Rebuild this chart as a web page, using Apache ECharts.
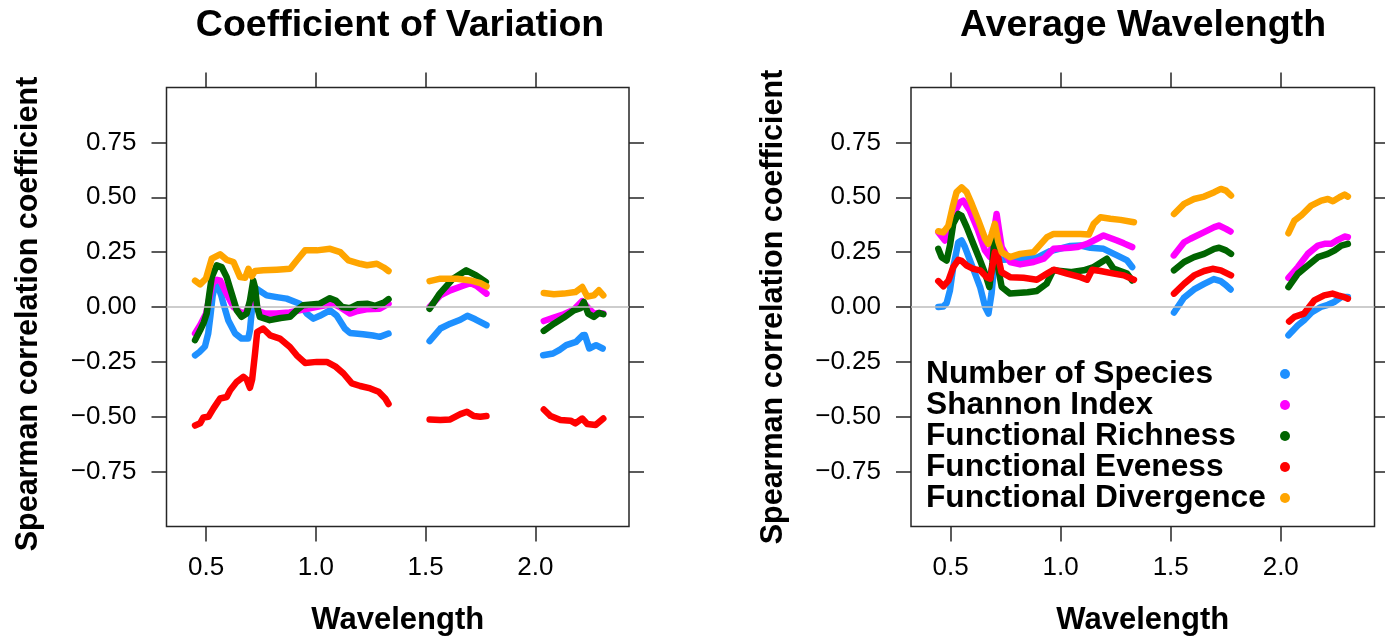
<!DOCTYPE html>
<html>
<head>
<meta charset="utf-8">
<title>Spearman correlation by wavelength</title>
<script src="https://cdn.jsdelivr.net/npm/echarts@6.0.0/dist/echarts.min.js"></script>
<style>
  html, body { margin: 0; padding: 0; background: #fff; }
  #chart { width: 1385px; height: 637px; }
</style>
</head>
<body>
<div id="chart"></div>
<script>
var seriesNames = ['Number of Species', 'Shannon Index', 'Functional Richness', 'Functional Eveness', 'Functional Divergence'];
var seriesColors = ['#1E90FF', '#FF00FF', '#006400', '#FF0000', '#FFA500'];
var panelTitles = ['Coefficient of Variation', 'Average Wavelength'];
var xTicks = [0.5, 1.0, 1.5, 2.0];
var yTicks = [-0.75, -0.5, -0.25, 0, 0.25, 0.5, 0.75];

// [wavelength, rho], one array per spectral block (water bands are gaps)
// Coefficient of Variation panel
var cvSpecies = [
  [[0.45,-0.22],[0.47,-0.205],[0.495,-0.18],[0.51,-0.12],[0.52,-0.04],[0.53,0.05],[0.541,0.1],[0.556,0.09],[0.57,0.05],[0.579,0.015],[0.601,-0.06],[0.632,-0.12],[0.662,-0.144],[0.692,-0.144],[0.7,-0.106],[0.71,0],[0.715,0.061],[0.73,0.083],[0.776,0.053],[0.822,0.045],[0.867,0.038],[0.927,0.015],[0.959,-0.03],[0.989,-0.053],[1.018,-0.04],[1.064,-0.015],[1.094,-0.038],[1.132,-0.098],[1.155,-0.118],[1.215,-0.124],[1.26,-0.13],[1.291,-0.136],[1.331,-0.121]],
  [[1.518,-0.155],[1.567,-0.098],[1.612,-0.076],[1.658,-0.058],[1.69,-0.04],[1.726,-0.056],[1.777,-0.083]],
  [[2.035,-0.22],[2.08,-0.212],[2.11,-0.195],[2.14,-0.174],[2.185,-0.159],[2.215,-0.129],[2.225,-0.128],[2.245,-0.189],[2.276,-0.174],[2.306,-0.189]]
];
var cvShannon = [
  [[0.45,-0.121],[0.475,-0.08],[0.5,-0.03],[0.515,0.04],[0.53,0.11],[0.55,0.124],[0.565,0.12],[0.594,0.06],[0.625,0],[0.655,-0.023],[0.678,-0.03],[0.7,0.015],[0.71,0.06],[0.72,0.04],[0.74,-0.02],[0.77,-0.03],[0.82,-0.03],[0.88,-0.025],[0.95,-0.01],[1.018,0.003],[1.079,0.015],[1.11,0],[1.155,-0.03],[1.19,-0.018],[1.23,-0.01],[1.291,-0.008],[1.331,0.015]],
  [[1.518,0],[1.567,0.053],[1.612,0.076],[1.673,0.098],[1.704,0.109],[1.734,0.095],[1.777,0.061]],
  [[2.038,-0.064],[2.084,-0.048],[2.129,-0.033],[2.175,-0.012],[2.213,0.027],[2.236,0],[2.266,-0.03],[2.289,-0.027],[2.309,-0.03]]
];
var cvRichness = [
  [[0.45,-0.151],[0.473,-0.106],[0.49,-0.07],[0.503,-0.03],[0.515,0.06],[0.526,0.136],[0.549,0.19],[0.571,0.182],[0.594,0.136],[0.617,0.061],[0.64,-0.015],[0.662,-0.045],[0.685,-0.03],[0.7,0.03],[0.715,0.121],[0.723,0.09],[0.733,0],[0.745,-0.045],[0.79,-0.06],[0.84,-0.05],[0.882,-0.045],[0.913,-0.015],[0.942,0.008],[1.018,0.015],[1.064,0.04],[1.09,0.03],[1.12,0],[1.155,-0.005],[1.19,0.012],[1.233,0.015],[1.27,0.005],[1.31,0.02],[1.331,0.036]],
  [[1.518,-0.008],[1.564,0.061],[1.625,0.129],[1.685,0.167],[1.73,0.144],[1.774,0.114]],
  [[2.038,-0.109],[2.084,-0.076],[2.129,-0.048],[2.175,-0.015],[2.205,-0.005],[2.22,0.023],[2.24,-0.03],[2.266,-0.045],[2.289,-0.027],[2.309,-0.033]]
];
var cvEveness = [
  [[0.45,-0.54],[0.473,-0.53],[0.488,-0.503],[0.511,-0.5],[0.534,-0.462],[0.564,-0.417],[0.594,-0.41],[0.61,-0.379],[0.64,-0.341],[0.67,-0.318],[0.685,-0.33],[0.7,-0.368],[0.71,-0.33],[0.723,-0.212],[0.733,-0.114],[0.76,-0.098],[0.792,-0.129],[0.836,-0.144],[0.882,-0.182],[0.913,-0.22],[0.951,-0.255],[1.005,-0.25],[1.05,-0.25],[1.088,-0.27],[1.126,-0.303],[1.164,-0.348],[1.202,-0.36],[1.248,-0.371],[1.286,-0.386],[1.316,-0.417],[1.331,-0.442]],
  [[1.518,-0.512],[1.567,-0.515],[1.612,-0.512],[1.658,-0.488],[1.688,-0.477],[1.719,-0.497],[1.749,-0.5],[1.777,-0.497]],
  [[2.038,-0.467],[2.069,-0.497],[2.114,-0.515],[2.16,-0.518],[2.182,-0.53],[2.213,-0.508],[2.236,-0.533],[2.274,-0.538],[2.309,-0.508]]
];
var cvDivergence = [
  [[0.45,0.12],[0.473,0.103],[0.5,0.13],[0.526,0.22],[0.564,0.24],[0.594,0.215],[0.625,0.205],[0.655,0.136],[0.678,0.133],[0.693,0.174],[0.708,0.14],[0.723,0.164],[0.761,0.167],[0.822,0.17],[0.883,0.174],[0.913,0.212],[0.951,0.258],[1.005,0.258],[1.065,0.265],[1.111,0.25],[1.149,0.212],[1.202,0.197],[1.233,0.19],[1.278,0.197],[1.309,0.18],[1.331,0.164]],
  [[1.518,0.118],[1.567,0.129],[1.643,0.129],[1.704,0.121],[1.749,0.109],[1.777,0.094]],
  [[2.038,0.064],[2.084,0.058],[2.129,0.061],[2.182,0.068],[2.213,0.091],[2.236,0.048],[2.266,0.053],[2.289,0.076],[2.309,0.053]]
];

// Average Wavelength panel
var awSpecies = [
  [[0.444,0],[0.467,0.002],[0.482,0.018],[0.497,0.076],[0.512,0.182],[0.535,0.295],[0.55,0.303],[0.565,0.273],[0.588,0.212],[0.611,0.152],[0.634,0.091],[0.657,0],[0.672,-0.03],[0.686,0.061],[0.697,0.18],[0.71,0.22],[0.74,0.215],[0.816,0.22],[0.892,0.225],[0.953,0.255],[1.044,0.278],[1.09,0.28],[1.135,0.27],[1.195,0.265],[1.256,0.235],[1.302,0.212],[1.325,0.182]],
  [[1.515,-0.025],[1.56,0.042],[1.606,0.08],[1.652,0.105],[1.696,0.127],[1.727,0.118],[1.751,0.1],[1.772,0.08]],
  [[2.035,-0.129],[2.078,-0.083],[2.106,-0.06],[2.14,-0.025],[2.182,0],[2.214,0.01],[2.243,0.023],[2.275,0.045],[2.305,0.045]]
];
var awShannon = [
  [[0.444,0.341],[0.474,0.303],[0.497,0.348],[0.512,0.42],[0.542,0.477],[0.557,0.485],[0.587,0.44],[0.625,0.348],[0.656,0.258],[0.679,0.227],[0.695,0.33],[0.709,0.424],[0.72,0.35],[0.732,0.273],[0.77,0.205],[0.816,0.194],[0.877,0.205],[0.923,0.22],[0.968,0.265],[1.044,0.27],[1.075,0.273],[1.12,0.288],[1.166,0.311],[1.195,0.326],[1.256,0.303],[1.287,0.29],[1.325,0.273]],
  [[1.514,0.235],[1.561,0.295],[1.59,0.311],[1.652,0.341],[1.698,0.364],[1.719,0.371],[1.751,0.356],[1.772,0.344]],
  [[2.035,0.133],[2.078,0.182],[2.123,0.242],[2.169,0.28],[2.199,0.288],[2.23,0.288],[2.26,0.306],[2.29,0.321],[2.305,0.318]]
];
var awRichness = [
  [[0.444,0.265],[0.459,0.227],[0.482,0.212],[0.497,0.28],[0.512,0.379],[0.535,0.424],[0.55,0.415],[0.573,0.364],[0.603,0.288],[0.634,0.212],[0.657,0.152],[0.676,0.091],[0.69,0.2],[0.701,0.333],[0.712,0.2],[0.732,0.091],[0.77,0.061],[0.85,0.067],[0.892,0.073],[0.936,0.106],[0.966,0.167],[1.044,0.159],[1.105,0.167],[1.15,0.182],[1.21,0.22],[1.24,0.175],[1.302,0.152],[1.325,0.121]],
  [[1.515,0.167],[1.561,0.205],[1.606,0.227],[1.652,0.242],[1.698,0.265],[1.72,0.27],[1.751,0.258],[1.774,0.242]],
  [[2.035,0.091],[2.078,0.152],[2.123,0.189],[2.169,0.227],[2.214,0.242],[2.245,0.258],[2.275,0.28],[2.305,0.288]]
];
var awEveness = [
  [[0.444,0.118],[0.467,0.094],[0.49,0.12],[0.512,0.182],[0.535,0.215],[0.55,0.21],[0.573,0.189],[0.603,0.174],[0.634,0.167],[0.664,0.136],[0.68,0.129],[0.701,0.25],[0.716,0.227],[0.731,0.159],[0.77,0.136],[0.831,0.133],[0.892,0.124],[0.938,0.152],[0.968,0.17],[1.029,0.152],[1.09,0.136],[1.12,0.124],[1.143,0.17],[1.181,0.164],[1.242,0.152],[1.287,0.144],[1.333,0.124]],
  [[1.515,0.061],[1.561,0.106],[1.606,0.144],[1.652,0.164],[1.69,0.174],[1.728,0.167],[1.774,0.144]],
  [[2.038,-0.066],[2.062,-0.045],[2.106,-0.03],[2.152,0.03],[2.197,0.053],[2.235,0.061],[2.26,0.053],[2.289,0.045],[2.305,0.038]]
];
var awDivergence = [
  [[0.444,0.345],[0.467,0.34],[0.49,0.371],[0.509,0.455],[0.527,0.523],[0.55,0.545],[0.573,0.523],[0.596,0.47],[0.626,0.394],[0.657,0.311],[0.671,0.288],[0.686,0.33],[0.701,0.379],[0.716,0.3],[0.732,0.25],[0.77,0.227],[0.816,0.242],[0.877,0.25],[0.938,0.318],[0.968,0.333],[1.029,0.333],[1.09,0.333],[1.128,0.33],[1.15,0.379],[1.181,0.409],[1.226,0.402],[1.272,0.397],[1.333,0.386]],
  [[1.515,0.424],[1.561,0.47],[1.606,0.492],[1.652,0.503],[1.698,0.523],[1.728,0.538],[1.751,0.53],[1.774,0.508]],
  [[2.035,0.336],[2.062,0.394],[2.093,0.417],[2.138,0.462],[2.184,0.485],[2.214,0.492],[2.237,0.482],[2.267,0.5],[2.29,0.512],[2.305,0.503]]
];

var panels = [
  [cvSpecies, cvShannon, cvRichness, cvEveness, cvDivergence],
  [awSpecies, awShannon, awRichness, awEveness, awDivergence]
];

var font = '"Liberation Sans", Arial, Helvetica, sans-serif';
var frame = '#262626';
var grids = [
  { left: 166.5, top: 87.5, width: 462.5, height: 439 },
  { left: 911, top: 87.5, width: 463.5, height: 439 }
];
var titleCenters = [400, 1143];

// blocks are joined with an empty point so the line breaks at the gaps
function joinBlocks(blocks) {
  var out = [];
  blocks.forEach(function (b, i) {
    if (i > 0) out.push([null, null]);
    out = out.concat(b);
  });
  return out;
}

function xAxisFor(p, pos) {
  return {
    type: 'value', gridIndex: p, position: pos, min: 0.32, max: 2.426,
    axisLine: { show: false, onZero: false },
    axisTick: { show: true, inside: false, length: 15, customValues: xTicks,
      lineStyle: { color: frame, width: 1.5 } },
    axisLabel: { show: pos === 'bottom', customValues: xTicks, margin: 28,
      fontSize: 26, color: '#000', fontFamily: font,
      formatter: function (v) { return v.toFixed(1); } },
    splitLine: { show: false },
    name: pos === 'bottom' ? 'Wavelength' : '',
    nameLocation: 'middle', nameGap: 78,
    nameTextStyle: { fontSize: 31, fontWeight: 'bold', color: '#000', fontFamily: font }
  };
}

function yAxisFor(p, pos) {
  return {
    type: 'value', gridIndex: p, position: pos, min: -1, max: 1,
    axisLine: { show: false, onZero: false },
    axisTick: { show: true, inside: false, length: 15, customValues: yTicks,
      lineStyle: { color: frame, width: 1.5 } },
    axisLabel: { show: pos === 'left', customValues: yTicks, margin: 30,
      fontSize: 26, color: '#000', fontFamily: font,
      formatter: function (v) { return v.toFixed(2).replace('-', '\u2212'); } },
    splitLine: { show: false },
    name: pos === 'left' ? 'Spearman correlation coefficient' : '',
    nameLocation: 'middle', nameGap: 122, nameRotate: 90,
    nameTextStyle: { fontSize: 30.5, fontWeight: 'bold', color: '#000', fontFamily: font,
      padding: p === 0 ? [0, 14, 0, 0] : 0 }
  };
}

var series = [];
panels.forEach(function (panel, p) {
  panel.forEach(function (blocks, i) {
    var s = {
      type: 'line',
      name: seriesNames[i],
      xAxisIndex: p * 2,
      yAxisIndex: p * 2,
      data: joinBlocks(blocks),
      showSymbol: false,
      symbol: 'none',
      connectNulls: false,
      silent: true,
      emphasis: { disabled: true },
      itemStyle: { color: seriesColors[i] },
      lineStyle: { color: seriesColors[i], width: 6.5, cap: 'round', join: 'round' }
    };
    if (i === 0) {
      s.markLine = {
        silent: true, symbol: 'none', label: { show: false },
        lineStyle: { color: '#bdbdbd', width: 1.5, type: 'solid' },
        data: [{ yAxis: 0 }]
      };
    }
    series.push(s);
  });
});

var option = {
  animation: false,
  backgroundColor: '#fff',
  title: panelTitles.map(function (t, i) {
    return {
      text: t, left: titleCenters[i], top: 7, textAlign: 'center', padding: 0,
      textStyle: { fontSize: 37.5, fontWeight: 'bold', color: '#000', fontFamily: font }
    };
  }),
  legend: {
    data: seriesNames,
    orient: 'vertical',
    align: 'right',
    left: 926,
    top: 358,
    padding: 0,
    itemGap: -1,
    itemWidth: 10,
    itemHeight: 10,
    icon: 'circle',
    selectedMode: false,
    formatter: function (name) { return '{t|' + name + '}'; },
    textStyle: {
      rich: {
        t: { width: 349, align: 'left', fontSize: 31.7, lineHeight: 31, fontWeight: 'bold',
          color: '#000', fontFamily: font }
      }
    }
  },
  grid: grids.map(function (g) {
    return {
      left: g.left, top: g.top, width: g.width, height: g.height,
      show: true, borderColor: frame, borderWidth: 1.5, backgroundColor: 'transparent',
      containLabel: false, outerBoundsMode: 'none'
    };
  }),
  xAxis: [xAxisFor(0, 'bottom'), xAxisFor(0, 'top'), xAxisFor(1, 'bottom'), xAxisFor(1, 'top')],
  yAxis: [yAxisFor(0, 'left'), yAxisFor(0, 'right'), yAxisFor(1, 'left'), yAxisFor(1, 'right')],
  series: series
};

var chart = echarts.init(document.getElementById('chart'), null, { renderer: 'canvas' });
chart.setOption(option);
</script>
</body>
</html>
